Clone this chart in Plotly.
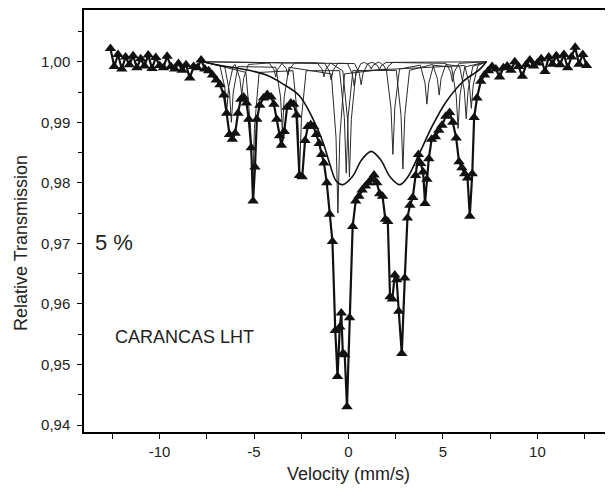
import plotly.graph_objects as go

# ---- measured spectrum (velocity mm/s, relative transmission) ----
velocity = [
    -12.6, -12.4, -12.2, -12.0, -11.8, -11.6, -11.4, -11.2, -11.0, -10.8, -10.6, -10.4, -10.2, -10.0,
    -9.8, -9.6, -9.4, -9.2, -9.0, -8.8, -8.6, -8.4, -8.2, -8.0, -7.8, -7.6, -7.4,
    -7.2, -7.0, -6.8, -6.6, -6.45, -6.3, -6.15, -6.0, -5.85, -5.7, -5.55, -5.4, -5.28, -5.15, -5.05,
    -4.95, -4.85, -4.7, -4.5, -4.3, -4.1, -3.95, -3.8, -3.65, -3.55, -3.4, -3.25, -3.05, -2.9, -2.75,
    -2.6, -2.45, -2.3, -2.15, -2.0, -1.85, -1.7, -1.55, -1.42, -1.3, -1.15, -1.0, -0.85, -0.7, -0.58,
    -0.46, -0.38, -0.3, -0.2, -0.08, 0.06, 0.22, 0.38, 0.55, 0.72, 0.9, 1.05, 1.2, 1.35, 1.5, 1.65,
    1.8, 1.95, 2.08, 2.2, 2.32, 2.45, 2.55, 2.66, 2.82, 2.98, 3.12, 3.25, 3.4, 3.55, 3.7, 3.82, 3.95,
    4.05, 4.15, 4.25, 4.4, 4.6, 4.78, 4.95, 5.15, 5.35, 5.52, 5.7, 5.85, 6.0, 6.15, 6.3, 6.42, 6.55,
    6.65, 6.8, 7.0, 7.2,
    7.4, 7.6, 7.8, 8.0, 8.2, 8.4, 8.6, 8.8, 9.0, 9.2, 9.4, 9.6, 9.8, 10.0, 10.2, 10.4, 10.6, 10.8,
    11.0, 11.2, 11.4, 11.6, 11.8, 12.0, 12.2, 12.4, 12.6,
]
transmission = [
    1.0022, 0.9992, 1.0012, 0.9988, 1.0008, 0.9995, 1.0010, 0.9990, 1.0005, 0.9993, 1.0011, 0.9989, 1.0007, 0.9994,
    0.9990, 1.0009, 0.9992, 0.9988, 0.9997, 0.9986, 0.9995, 0.9973, 0.9992, 0.9990, 1.0003, 0.9988, 0.9985,
    0.9978, 0.9970, 0.9962, 0.9945, 0.9915, 0.9880, 0.9872, 0.9882, 0.9915, 0.9938, 0.9942, 0.9932, 0.9905, 0.9858, 0.9770,
    0.9826, 0.9905, 0.9928, 0.9940, 0.9946, 0.9942, 0.9930, 0.9905, 0.9878, 0.9862, 0.9885, 0.9925, 0.9932, 0.9930, 0.9912,
    0.9812, 0.9810, 0.9870, 0.9893, 0.9896, 0.9893, 0.9880, 0.9865, 0.9847, 0.9833, 0.9800, 0.9748, 0.9703, 0.9556, 0.9480,
    0.9562, 0.9585, 0.9518, 0.9516, 0.9430, 0.9577, 0.9728, 0.9770, 0.9778, 0.9788, 0.9795, 0.9800, 0.9805, 0.9813, 0.9800, 0.9782,
    0.9778, 0.9740, 0.9736, 0.9612, 0.9608, 0.9648, 0.9640, 0.9588, 0.9518, 0.9643, 0.9742, 0.9763, 0.9776, 0.9812, 0.9847, 0.9832, 0.9818,
    0.9766, 0.9806, 0.9840, 0.9872, 0.9876, 0.9887, 0.9895, 0.9910, 0.9916, 0.9900, 0.9874, 0.9835, 0.9825, 0.9815, 0.9808, 0.9745, 0.9815,
    0.9908, 0.9940, 0.9968, 0.9978,
    0.9985, 0.9992, 0.9988, 0.9975, 0.9990, 0.9993, 0.9986, 1.0000, 0.9992, 0.9976, 0.9995, 1.0003, 0.9993, 0.9998, 1.0005, 0.9984, 1.0008, 0.9996,
    1.0010, 0.9995, 1.0012, 0.9990, 1.0008, 1.0024, 0.9996, 1.0012, 0.9994,
]

# ---- broad doublet sub-spectrum ----
broad_x = [-7.7, -7.0, -6.0, -5.0, -4.35, -3.5, -2.6, -1.9, -1.36, -1.0, -0.65, -0.3, 0.2, 0.7, 1.2,
           1.7, 2.2, 2.7, 3.1, 3.76, 4.47, 5.17, 6.05, 6.93, 7.3]
broad_y = [1.0, 0.9995, 0.9990, 0.9984, 0.9978, 0.9964, 0.9944, 0.9907, 0.9868, 0.9832, 0.9803, 0.9797, 0.9810, 0.9838, 0.9852,
           0.9838, 0.9810, 0.9797, 0.9808, 0.9849, 0.9896, 0.9934, 0.9967, 0.9987, 1.0]

# ---- narrow sub-spectra ----
sub1_x = [-7.7, -6.55, -6.30, -6.20, -6.10, -5.85, -3.85, -3.60, -3.50, -3.40, -3.15, -0.91, -0.66, -0.56, -0.46, -0.21,
          2.0, 2.25, 2.35, 2.45, 2.7, 3.8, 4.05, 4.15, 4.25, 4.5, 5.45, 5.70, 5.80, 5.90, 6.15, 7.3]
sub1_y = [1.0, 0.9992, 0.9950, 0.9900, 0.9950, 0.9992, 0.9991, 0.99425, 0.9885, 0.99425, 0.9991, 0.998, 0.9875, 0.975, 0.9875, 0.998,
          0.9988, 0.99235, 0.9847, 0.99235, 0.9988, 0.99944, 0.9965, 0.993, 0.9965, 0.99944, 0.99912, 0.9945, 0.989, 0.9945, 0.99912, 1.0]

sub2_x = [-7.7, -5.43, -5.18, -5.08, -4.98, -4.73, -2.94, -2.69, -2.59, -2.49, -2.24, -0.47, -0.22, -0.12, -0.02, 0.23,
          2.53, 2.78, 2.88, 2.98, 3.23, 4.45, 4.70, 4.80, 4.90, 5.15, 5.88, 6.13, 6.23, 6.33, 6.58, 7.3]
sub2_y = [1.0, 0.99824, 0.989, 0.978, 0.989, 0.99824, 0.99852, 0.99075, 0.9815, 0.99075, 0.99852, 0.99853, 0.9908, 0.9816, 0.9908, 0.99853,
          0.99858, 0.99115, 0.9823, 0.99115, 0.99858, 0.99956, 0.99725, 0.9945, 0.99725, 0.99956, 0.99925, 0.9953, 0.9906, 0.9953, 0.99925, 1.0]

sub3_x = [-7.7, -6.8, -6.55, -6.45, -6.35, -6.1, -6.0, -5.75, -5.65, -5.55, -5.3, -4.2, -3.95, -3.85, -3.75, -3.5,
          -1.65, -1.4, -1.3, -1.2, -0.95, -0.3, -0.05, 0.05, 0.15, 0.4, 6.15, 6.40, 6.50, 6.60, 6.85, 7.3]
sub3_y = [1.0, 0.99932, 0.99575, 0.9915, 0.99575, 0.99932, 0.99956, 0.99725, 0.9945, 0.99725, 0.99956, 0.9998, 0.99875, 0.9975, 0.99875, 0.9998,
          0.9998, 0.99875, 0.9975, 0.99875, 0.9998, 0.99848, 0.9905, 0.981, 0.9905, 0.99848, 0.99938, 0.99615, 0.9923, 0.99615, 0.99938, 1.0]

sub4_x = [-7.7, -3.55, -3.3, -3.2, -3.1, -2.85, -1.27, -1.02, -0.92, -0.82, -0.57, 0.32, 0.57, 0.67, 0.77, 1.02,
          1.29, 1.54, 1.64, 1.74, 1.99, 5.15, 5.4, 5.5, 5.6, 5.85, 7.3]
sub4_y = [1.0, 0.99982, 0.9989, 0.9978, 0.9989, 0.99982, 0.99976, 0.9985, 0.997, 0.9985, 0.99976, 0.9997, 0.9981, 0.9962, 0.9981, 0.9997,
          0.9999, 0.99935, 0.9987, 0.99935, 0.9999, 0.99974, 0.99835, 0.9967, 0.99835, 0.99974, 1.0]

sub5_x = [-7.7, -0.05, 0.2, 0.3, 0.4, 0.65, 0.85, 1.1, 1.2, 1.3, 1.55, 1.65, 1.9, 2.0, 2.1, 2.35, 7.3]
sub5_y = [1.0, 0.9997, 0.998, 0.996, 0.998, 0.9997, 0.9999, 0.9994, 0.9988, 0.9994, 0.9999, 0.9999, 0.99925, 0.9985, 0.99925, 0.9999, 1.0]

x_ticks = [-10, -5, 0, 5, 10]
x_tick_labels = ["-10", "-5", "0", "5", "10"]
x_minor = [-12.5, -7.5, -2.5, 2.5, 7.5, 12.5]
y_ticks = [0.94, 0.95, 0.96, 0.97, 0.98, 0.99, 1.00]
y_minor = [0.945, 0.955, 0.965, 0.975, 0.985, 0.995, 1.005]

x_title = "Velocity (mm/s)"
y_title = "Relative Transmission"
label_pct = "5 %"
label_sample = "CARANCAS LHT"

FONT = "Liberation Sans, Arial, sans-serif"

fig = go.Figure()
for sx, sy in [(sub1_x, sub1_y), (sub2_x, sub2_y), (sub3_x, sub3_y), (sub4_x, sub4_y), (sub5_x, sub5_y)]:
    fig.add_trace(go.Scatter(x=sx, y=sy, mode="lines", line=dict(color="#2a2a2a", width=1),
                             hoverinfo="skip", showlegend=False))
fig.add_trace(go.Scatter(x=broad_x, y=broad_y, mode="lines", line=dict(color="#111", width=1.6, shape="spline"),
                         showlegend=False))
fig.add_trace(go.Scatter(x=velocity, y=transmission, mode="lines+markers",
                         line=dict(color="#111", width=2.2),
                         marker=dict(symbol="triangle-up", size=10, color="#111"),
                         showlegend=False))

axis_common = dict(showgrid=False, zeroline=False, showline=True, linecolor="black", linewidth=1.5,
                   ticks="outside", ticklen=5, tickwidth=1.3, tickcolor="black",
                   tickfont=dict(family=FONT, size=15, color="#222"))
fig.update_layout(
    width=605, height=482,
    margin=dict(l=76, r=0, t=0, b=58),
    paper_bgcolor="white", plot_bgcolor="white",
    separators=", ",
    xaxis=dict(range=[-14, 14], tickvals=x_ticks, ticktext=x_tick_labels, mirror=True,
               minor=dict(tickvals=x_minor, ticks="outside", ticklen=5, tickwidth=1.3, tickcolor="black"),
               **axis_common),
    yaxis=dict(range=[0.93885, 1.00855], tickvals=y_ticks, tickformat=".2f", ticklabelstandoff=4,
               minor=dict(tickvals=y_minor, ticks="outside", ticklen=4, tickwidth=1.3, tickcolor="black"),
               **axis_common),
    annotations=[
        dict(text=x_title, xref="paper", yref="paper", x=0.5, y=-0.099, xanchor="center", yanchor="middle",
             showarrow=False, font=dict(family=FONT, size=18, color="#222")),
        dict(text=y_title, xref="paper", yref="paper", x=-0.119, y=0.448, xanchor="center", yanchor="middle",
             textangle=-90, showarrow=False, font=dict(family=FONT, size=18, color="#222")),
        dict(text=label_pct, xref="x", yref="y", x=-12.4, y=0.9702, xanchor="center", yanchor="middle",
             showarrow=False, font=dict(family=FONT, size=22, color="#222")),
        dict(text=label_sample, xref="x", yref="y", x=-8.7, y=0.9545, xanchor="center", yanchor="middle",
             showarrow=False, font=dict(family=FONT, size=18, color="#222")),
    ],
)
fig.write_html("out.html")
